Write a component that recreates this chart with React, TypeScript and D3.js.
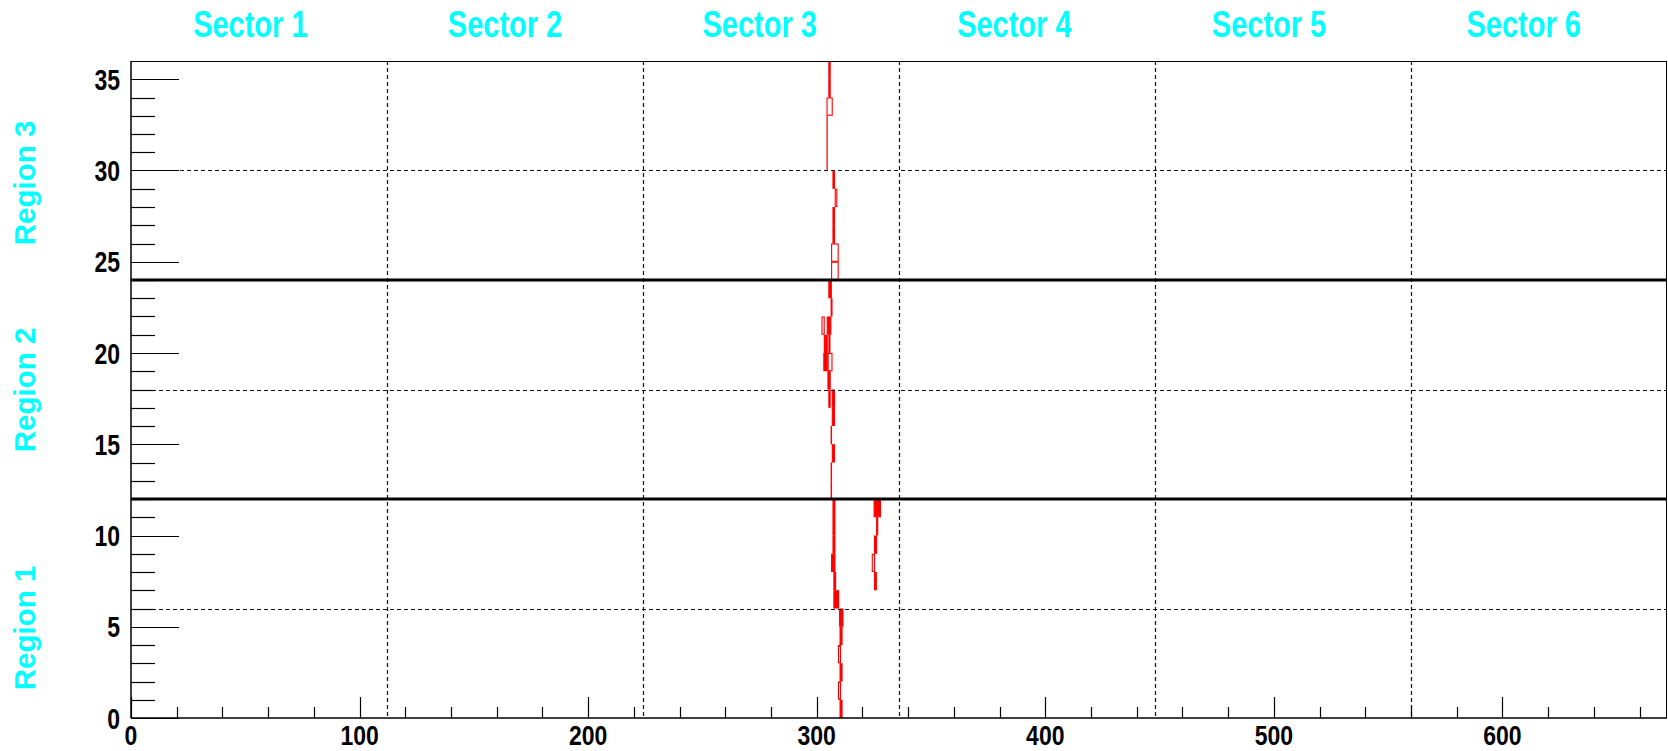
import React from "react";
import * as d3 from "d3";

// Drift-chamber hit display: 6 sectors x 112 wires, 36 layers (3 regions x 12 layers)
const sectorLabels = ["Sector 1", "Sector 2", "Sector 3", "Sector 4", "Sector 5", "Sector 6"];
const regionLabels = ["Region 1", "Region 2", "Region 3"];
const wiresPerSector = 112;
const layerCount = 36;

const xTickLabels = [0, 100, 200, 300, 400, 500, 600];
const yTickLabels = [0, 5, 10, 15, 20, 25, 30, 35];

// Hits as [layer, wireLow, wireHigh]; drawn as solid boxes
const filledHits: [number, number, number][] = [
  [35, 305.1, 306.1], [34, 305.1, 306.1],
  [29, 306.9, 308.0], [27, 306.9, 308.0], [26, 306.9, 308.0],
  [23, 305.1, 306.6], [21, 304.4, 306.4], [20, 303.1, 304.8], [19, 302.9, 304.8],
  [18, 304.7, 306.1], [17, 305.1, 306.1], [17, 306.6, 308.0], [16, 306.6, 308.0],
  [14, 306.6, 308.0],
  [11, 306.9, 308.2], [10, 306.9, 308.2], [9, 306.9, 308.2], [8, 306.3, 308.2],
  [7, 307.3, 308.5], [6, 307.3, 309.8], [5, 309.8, 311.7], [4, 310.0, 311.3],
  [2, 310.0, 311.3], [0, 310.0, 311.3],
  [11, 324.9, 328.1], [9, 325.1, 326.4], [7, 325.1, 326.3],
];

// Hits drawn as open boxes
const hollowHits: [number, number, number][] = [
  [33, 304.3, 307.0], [32, 304.3, 304.8], [31, 304.3, 304.8], [30, 304.3, 304.8],
  [28, 307.9, 309.0], [25, 306.3, 309.6], [24, 306.3, 309.6],
  [22, 306.1, 306.9], [21, 302.1, 303.5], [20, 305.1, 306.0], [19, 304.8, 306.9],
  [15, 306.1, 306.7], [13, 306.1, 306.7], [12, 306.1, 306.7],
  [3, 309.3, 310.6], [1, 309.3, 310.6],
  [10, 326.0, 326.9], [8, 324.1, 325.5],
];

const W = 1668;
const H = 751;
const FONT = "'Liberation Sans', Arial, Helvetica, sans-serif";
const CYAN = "#00ffff";
const RED = "#ff0000";

export default function App() {
  const x = d3.scaleLinear().domain([0, wiresPerSector * 6]).range([131, 1667]);
  const y = d3.scaleLinear().domain([0, layerCount]).range([718, 61]);
  const titleX = d3.scaleLinear().domain([0, 6]).range([123, 1651]);

  const xMinor = d3.range(20, wiresPerSector * 6, 20).filter((v) => v % 100 !== 0);
  const yMinor = d3.range(1, layerCount).filter((v) => v % 5 !== 0);
  const sectorEdges = d3.range(1, 6).map((i) => i * wiresPerSector);
  const regionMids = [6, 18, 30];
  const regionEdges = [12, 24];
  const regionLabelY = [628, 390, 183];

  const box = (h: [number, number, number], filled: boolean, i: number) => {
    const [layer, lo, hi] = h;
    const x0 = x(lo) + 0.5;
    const x1 = Math.max(x(hi) - 0.5, x0);
    const yTop = y(layer + 1) + 0.5;
    const yBot = y(layer) - 0.5;
    return (
      <rect
        key={(filled ? "f" : "h") + i}
        x={x0}
        y={yTop}
        width={x1 - x0}
        height={yBot - yTop}
        fill={filled ? RED : "none"}
        stroke={RED}
        strokeWidth={1.1}
      />
    );
  };

  return (
    <svg
      width={W}
      height={H}
      style={{ position: "absolute", left: 0, top: 0, background: "#fff" }}
      fontFamily={FONT}
      fontWeight="bold"
    >
      <rect x={0} y={0} width={W} height={H} fill="#fff" />

      {/* sector titles */}
      {sectorLabels.map((s, i) => (
        <text
          key={s}
          transform={`translate(${titleX(i + 0.5)},36.5) scale(1,1.25)`}
          textAnchor="middle"
          fontSize={29}
          fill={CYAN}
        >
          {s}
        </text>
      ))}

      {/* region titles */}
      {regionLabels.map((s, i) => (
        <text
          key={s}
          transform={`translate(35,${regionLabelY[i]}) rotate(-90)`}
          textAnchor="middle"
          fontSize={29.5}
          fill={CYAN}
        >
          {s}
        </text>
      ))}

      {/* hits */}
      <g>
        {filledHits.map((h, i) => box(h, true, i))}
        {hollowHits.map((h, i) => box(h, false, i))}
      </g>

      {/* dashed grid: sector boundaries and region mid-planes */}
      {sectorEdges.map((w) => (
        <line
          key={"sv" + w}
          x1={Math.round(x(w)) + 0.5}
          x2={Math.round(x(w)) + 0.5}
          y1={y(layerCount)}
          y2={y(0)}
          stroke="#111"
          strokeWidth={1.2}
          strokeDasharray="4,3"
        />
      ))}
      {regionMids.map((l) => (
        <line
          key={"rm" + l}
          x1={x(0)}
          x2={x(wiresPerSector * 6)}
          y1={Math.round(y(l)) + 0.5}
          y2={Math.round(y(l)) + 0.5}
          stroke="#111"
          strokeWidth={1.2}
          strokeDasharray="4,3"
        />
      ))}
      {regionEdges.map((l) => (
        <line
          key={"re" + l}
          x1={x(0)}
          x2={x(wiresPerSector * 6)}
          y1={y(l)}
          y2={y(l)}
          stroke="#000"
          strokeWidth={3}
        />
      ))}

      {/* frame */}
      <line x1={x(0)} x2={x(672)} y1={61.5} y2={61.5} stroke="#000" strokeWidth={1} />
      <line x1={x(672) - 0.5} x2={x(672) - 0.5} y1={61} y2={718} stroke="#000" strokeWidth={1} />

      {/* y axis */}
      <line x1={x(0)} x2={x(0)} y1={y(layerCount)} y2={y(0)} stroke="#000" strokeWidth={1.5} />
      {yMinor.map((v) => (
        <line key={"ym" + v} x1={x(0)} x2={x(0) + 24} y1={Math.round(y(v)) + 0.5} y2={Math.round(y(v)) + 0.5} stroke="#000" strokeWidth={1.2} />
      ))}
      {yTickLabels.map((v) => (
        <g key={"yt" + v}>
          <line x1={x(0)} x2={x(0) + 48} y1={Math.round(y(v)) + 0.5} y2={Math.round(y(v)) + 0.5} stroke="#000" strokeWidth={1.2} />
          <text
            transform={`translate(120,${y(v) + 10.5}) scale(1,1.25)`}
            textAnchor="end"
            fontSize={23}
            fill="#000"
          >
            {v}
          </text>
        </g>
      ))}

      {/* x axis */}
      <line x1={x(0)} x2={x(672)} y1={y(0)} y2={y(0)} stroke="#000" strokeWidth={1.5} />
      {xMinor.map((v) => (
        <line key={"xm" + v} x1={Math.round(x(v)) + 0.5} x2={Math.round(x(v)) + 0.5} y1={y(0)} y2={y(0) - 11} stroke="#000" strokeWidth={1.2} />
      ))}
      {xTickLabels.map((v) => (
        <g key={"xt" + v}>
          <line x1={Math.round(x(v)) + 0.5} x2={Math.round(x(v)) + 0.5} y1={y(0)} y2={y(0) - 21} stroke="#000" strokeWidth={1.2} />
          <text
            transform={`translate(${x(v)},744.5) scale(1,1.22)`}
            textAnchor="middle"
            fontSize={23}
            fill="#000"
          >
            {v}
          </text>
        </g>
      ))}
    </svg>
  );
}
